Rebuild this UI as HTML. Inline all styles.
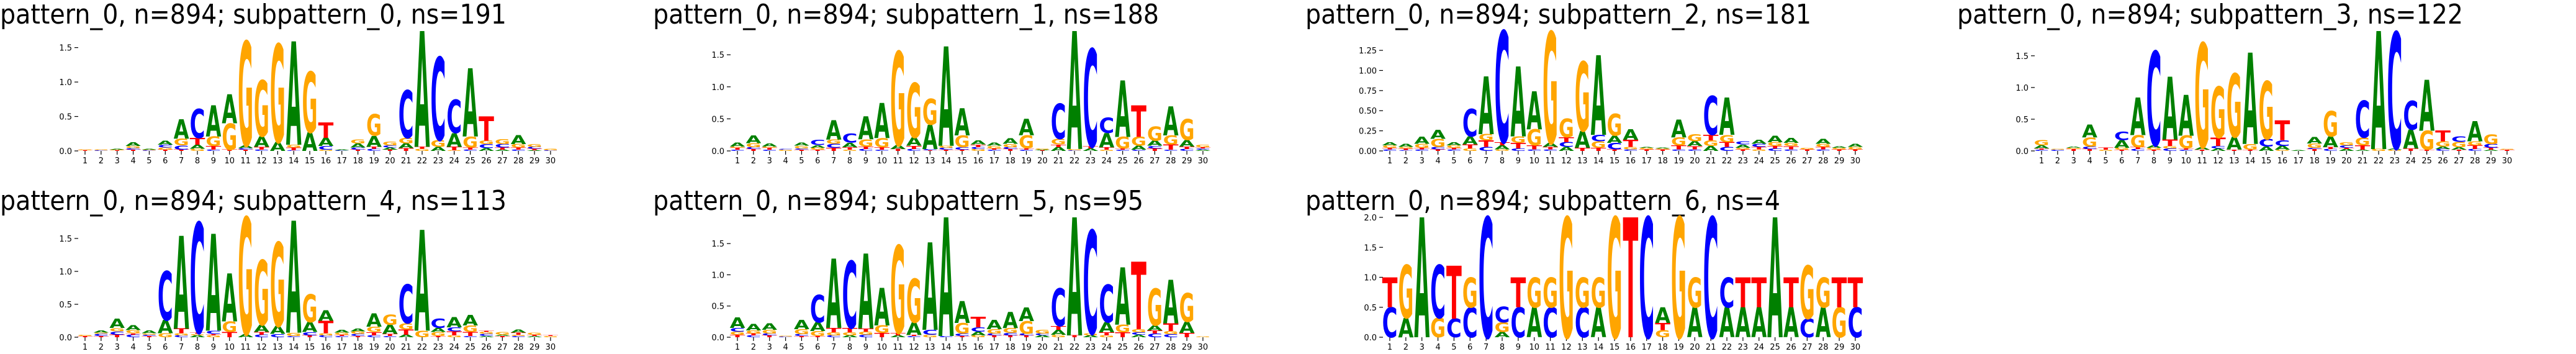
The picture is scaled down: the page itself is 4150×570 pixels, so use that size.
<!DOCTYPE html>
<html><head><meta charset="utf-8">
<style>
html,body{margin:0;padding:0;background:#fff;overflow:hidden;}
svg{display:block;}
</style></head>
<body>
<svg id="fig" xmlns="http://www.w3.org/2000/svg" width="4150" height="570" viewBox="0 0 4150 570">
<rect x="0" y="0" width="4150" height="570" fill="#fff"/>
</svg>
<script>
// ---- data: titles and letter stacks (bottom to top, heights in bits) ----
const titles = [
 "pattern_0, n=894; subpattern_0, ns=191",
 "pattern_0, n=894; subpattern_1, ns=188",
 "pattern_0, n=894; subpattern_2, ns=181",
 "pattern_0, n=894; subpattern_3, ns=122",
 "pattern_0, n=894; subpattern_4, ns=113",
 "pattern_0, n=894; subpattern_5, ns=95",
 "pattern_0, n=894; subpattern_6, ns=4"
];
const positions = [1,2,3,4,5,6,7,8,9,10,11,12,13,14,15,16,17,18,19,20,21,22,23,24,25,26,27,28,29,30];
const tickSteps = [0.5,0.5,0.25,0.5,0.5,0.5,0.5];
const stacks0 = ["T.01 G.01","C.01 G.01","T.01 G.01 A.01","T.02 C.02 G.03 A.05","C.01 G.01 A.01","T.02 G.03 C.04 A.06","T.02 C.06 G.1 A.28","G.03 A.06 T.1 C.42","C.02 T.05 G.14 A.45","T.02 G.38 A.42","T.02 C.02 A.04 G1.51","C.02 T.04 A.15 G.81","A.13 G1.42","C.01 T.04 G.04 A1.5","A.27 G.88","G.02 C.05 A.12 T.22","C.01 A.01","T.02 C.03 A.06 G.06","C.03 T.03 A.16 G.31","T.02 A.03 C.03 G.05","T.04 A.07 G.08 C.69","G.03 T.03 A1.68","A.06 G.1 C1.2","G.01 T.05 A.2 C.48","C.02 T.03 G.16 A.99","A.04 C.06 G.05 T.35","A.02 T.03 C.05 G.07","C.02 T.03 G.05 A.13","A.01 T.02 C.03 G.04","C.01 G.02"];
const stacks1 = ["C.02 T.03 G.02 A.06","T.03 C.03 G.06 A.12","C.02 T.03 G.02 A.05","G.02 C.01","T.02 C.02 G.04 A.05","T.02 G.03 A.04 C.08","T.05 C.06 G.07 A.3","G.02 T.04 A.07 C.14","C.03 T.04 G.11 A.36","C.02 T.04 G.14 A.55","T.03 A.06 G1.46","C.03 T.05 A.13 G.85","T.01 C.02 A.38 G.40","T.02 C.03 G.03 A1.55","T.02 C.04 G.18 A.42","G.03 C.03 T.04 A.06","C.02 T.02 G.04 A.05","T.03 C.03 G.05 A.09","C.02 T.02 G.2 A.26","T.01 A.01 G.02","A.06 T.04 G.09 C.55","C.01 G.02 A1.84","A.04 T.03 C1.52","G.02 T.04 A.22 C.24","C.02 T.02 G.18 A.88","C.02 A.06 G.14 T.49","T.04 C.04 A.08 G.22","C.02 T.08 G.14 A.45","C.03 T.04 A.1 G.33","A.02 C.02 T.02 G.04"];
const stacks2 = ["C.02 T.02 G.03 A.04","C.01 T.02 G.02 A.04","C.02 T.02 G.05 A.09","T.02 C.03 G.1 A.11","C.02 T.02 G.03 A.04","G.03 T.05 A.1 C.34","C.05 T.08 G.08 A.72","G.02 A.05 T.04 C1.38","C.03 T.07 G.08 A.87","C.02 T.05 G.2 A.47","C.02 T.03 A.05 G1.38","A.05 C.06 T.06 G.23","T.04 A.21 G.86","T.04 G.08 C.08 A.99","T.02 C.08 A.09 G.27","C.02 G.03 T.09 A.13","T.02 G.02 A.01","T.02 G.01 A.01","C.02 T.05 G.1 A.22","C.02 T.04 A.06 G.09","A.06 G.07 T.07 C.48","C.05 T.06 G.09 A.46","T.02 G.02 A.04 C.04","G.02 T.03 C.04 A.05","C.03 T.03 G.05 A.08","C.02 T.04 G.04 A.06","T.02 G.02","C.02 T.03 G.04 A.06","T.02 G.02 A.02","T.02 G.03 A.04"];
const stacks3 = ["C.02 T.02 A.05 G.08","C.02 G.01","T.03 G.02 A.02","T.03 C.04 G.14 A.2","G.02 T.03","T.02 G.03 A.12 C.13","C.03 T.03 G.19 A.59","T.02 G.03 A.04 C1.48","C.04 G.04 T.1 A.99","C.02 T.02 G.2 A.64","T.02 A.04 G1.64","A.04 C.04 T.13 G.8","T.02 A.2 G1.0","T.02 G.09 A1.44","A.07 C.12 G.91","G.02 A.06 C.09 T.31","A.01","T.03 C.02 G.07 A.1","C.03 T.03 A.17 G.4","A.03 T.02 C.04 G.05","A.02 T.07 G.12 C.58","G.03 A1.86","G.02 A.02 C1.83","T.04 A.3 C.45","T.02 G.3 A.8","C.03 A.04 G.08 T.17","T.02 A.04 G.08 C.09","C.03 T.06 G.06 A.32","A.02 T.03 C.06 G.15","T.02 G.01"];
const stacks4 = ["T.02 G.02","T.02 C.03 G.02 A.03","T.04 C.05 G.05 A.14","C.04 T.02 G.05 A.07","T.02 C.02 G.02 A.04","G.06 A.2 C.74","C.03 G.03 T.07 A1.41","A.03 G.02 T.02 C1.67","G.03 T.02 C.05 A1.47","T.08 G.16 A.73","A.05 G1.77","C.04 T.04 A.11 G.98","C.05 A.12 G1.27","C.02 G.05 A1.7","T.03 C.05 A.15 G.42","C.03 G.03 T.19 A.16","C.02 T.02 G.03 A.04","T.02 C.03 G.04 A.04","C.03 T.05 G.08 A.2","C.02 T.03 A.14 G.15","A.04 T.08 G.09 C.59","G.1 A1.53","T.02 G.06 A.06 C.14","G.03 T.06 C.06 A.15","C.02 T.06 G.1 A.16","A.02 C.03 G.03 T.02","T.02 A.02 G.04","C.02 G.02 T.03 A.05","A.02 T.02 G.03","G.02 T.01"];
const stacks5 = ["T.04 G.05 C.06 A.17","C.03 T.03 G.05 A.1","T.03 C.03 G.06 A.1","C.01 G.01","T.02 C.03 G.08 A.15","T.02 G.08 A.14 C.44","C.03 G.05 T.07 A1.11","A.03 G.05 T.07 C1.07","C.04 G.05 T.05 A1.2","T.07 G.12 A.6","A.03 T.04 G1.4","C.02 T.02 A.2 G.7","G.04 C.08 A1.4","C.02 A1.9","T.02 C.04 G.17 A.35","G.03 A.06 C.07 T.17","T.03 C.03 G.07 A.15","T.03 C.04 G.08 A.26","T.03 C.03 G.2 A.22","A.03 C.03 G.06","G.04 A.08 T.06 C.6","T.03 A1.89","A.03 G.03 C1.65","G.03 T.05 A.16 C.6","T.08 G.12 A.92","A.04 C.04 G.05 T1.08","C.06 T.05 A.08 G.59","C.05 G.05 T.12 A.7","T.07 A.18 G.46","G.01"];
const stacks6 = ["C.5 T.5","A.32 G.88","A2.0","G.32 C.88","C.31 T.88","C.5 G.5","C2.0","A.09 G.16 C.26","C.5 T.5","A.5 G.5","C.5 G.5","G2.0","C.5 G.5","A.5 G.5","G2.0","T2.0","C2.0","G.12 T.12 A.26","G2.0","A.5 G.5","C2.0","A.5 C.5","A.5 T.5","A.5 T.5","A2.0","A.5 T.5","C.31 G.88","A.5 G.5","G.5 T.5","C.5 T.5"];
const allStacks = [stacks0, stacks1, stacks2, stacks3, stacks4, stacks5, stacks6];

// ---- layout (not data) ----
const colX = [0, 1051, 2102, 3152];
const panelCol = [0,1,2,3,0,1,2];
const panelRow = [0,0,0,0,1,1,1];
const titleW = [816,815,815,815,816,790,765];
const SP = 25.86, FIRST = 137, AX_H = 193;
const COLORS = {A:"#008000", C:"#0000ff", G:"#ffa500", T:"#ff0000"};
const NS = "http://www.w3.org/2000/svg";
const svg = document.getElementById('fig');

function mk(tag, attrs, parent){
  const e = document.createElementNS(NS, tag);
  for (const k in attrs) e.setAttribute(k, attrs[k]);
  parent.appendChild(e);
  return e;
}
function parseStack(s){
  return s.trim().split(/\s+/).map(t => [t[0], parseFloat(t.slice(1))]);
}

allStacks.forEach((stk, p) => {
  const cx = colX[panelCol[p]];
  const rowOff = panelRow[p] * 300;
  const y0 = 243 + rowOff;
  const g = mk('g', {}, svg);
  
  

  const title = mk('text', {x: cx + (p%4===0?0:1), y: 38 + rowOff, 'font-family': 'DejaVu Sans, Liberation Sans, sans-serif', 'font-size': 44, fill: '#000', textLength: titleW[p], lengthAdjust: 'spacingAndGlyphs'}, g);
  title.textContent = titles[p];
  
  

  const parsed = stk.map(parseStack);
  const totals = parsed.map(a => a.reduce((s, v) => s + v[1], 0));
  const ymax = Math.max(...totals);
  const scale = AX_H / ymax;
  const xPos = i => cx + FIRST + (positions[i] - 1) * SP;
  const yPos = v => y0 - v * scale;

  const step = tickSteps[p];
  const dec = step < 0.5 ? 2 : 1;
  for (let v = 0; v <= ymax + 1e-9; v += step) {
    const yy = yPos(v);
    const tk = mk('line', {x1: cx + 120, x2: cx + 126, y1: yy, y2: yy, stroke: '#000', 'stroke-width': 1.2}, g);
    
    
    const lb = mk('text', {x: cx + 116, y: yy + 5, 'text-anchor': 'end', 'font-family': 'DejaVu Sans, Liberation Sans, sans-serif', 'font-size': 13, fill: '#000'}, g);
    lb.textContent = v.toFixed(dec);
    
    
  }
  parsed.forEach((arr, i) => {
    const xc = xPos(i);
    const xt = mk('line', {x1: xc, x2: xc, y1: y0, y2: y0 + 6, stroke: '#000', 'stroke-width': 1.2}, g);
    
    
    const xl = mk('text', {x: xc, y: y0 + 20, 'text-anchor': 'middle', 'font-family': 'DejaVu Sans, Liberation Sans, sans-serif', 'font-size': 13, fill: '#000'}, g);
    xl.textContent = String(positions[i]);
    
    
    let cum = 0;
    const w = SP * 0.96;
    arr.forEach(([L, h]) => {
      const yb = yPos(cum);
      const hp = h * scale;
      cum += h;
      if (hp < 0.4) return;
      const t = mk('text', {x: 0, y: 0, 'font-family': 'DejaVu Sans, Liberation Sans, sans-serif', 'font-weight': 'bold', 'font-size': 100, fill: COLORS[L], textLength: 100, lengthAdjust: 'spacingAndGlyphs',
        transform: 'translate(' + (xc - w/2).toFixed(2) + ',' + yb.toFixed(2) + ') scale(' + (w/100).toFixed(4) + ',' + (hp/72.9).toFixed(4) + ')'}, g);
      t.textContent = L;
      
      
    });
  });
});
</script>
</body></html>
